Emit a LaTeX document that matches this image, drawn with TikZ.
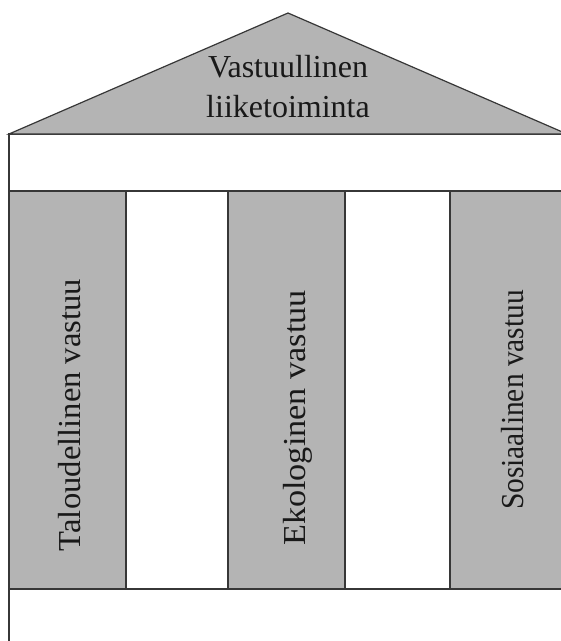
\documentclass[tikz,border=0pt]{standalone}
\usepackage{graphicx}
\usepackage{fontspec}
\setmainfont{Liberation Serif}
\definecolor{pillarfill}{RGB}{180,180,180}
\definecolor{edgecol}{RGB}{55,55,55}
\definecolor{inkcol}{RGB}{25,25,25}
\tikzset{
  solidpart/.style={draw=edgecol, line width=1.2pt, fill=pillarfill},
  openpart/.style={draw=edgecol, line width=1.2pt, fill=white},
  block/.style={rectangle, inner sep=0pt, outer sep=0pt, anchor=north west},
  column/.style={block, solidpart, minimum width=117pt, minimum height=398pt},
  lbl/.style={font=\fontsize{32}{40}\selectfont, text=inkcol, inner sep=0pt},
}
\begin{document}
\begin{tikzpicture}[x=1pt,y=-1pt]
\useasboundingbox (0,0) rectangle (561,641);
\fill[white] (0,0) rectangle (561,641);
\clip (0,0) rectangle (561,641);
% foundation and beam
\node[block, openpart, minimum width=558pt, minimum height=80pt] (base) at (9,589) {};
\node[block, openpart, minimum width=558pt, minimum height=57pt] (beam) at (9,134) {};
% pillars
\node[column] (p1) at (9,191) {};
\node[column] (p2) at (228,191) {};
\node[column] (p3) at (450,191) {};
% roof
\coordinate (roofL) at (9,134);
\coordinate (apex) at (288,13);
\coordinate (roofR) at (567,134);
\draw[solidpart, line join=miter] (roofL) -- (apex) -- (roofR) -- cycle;
\node[lbl, align=center, anchor=north] (roof) at (288,55) {Vastuullinen\\liiketoiminta};
% pillar labels
\node[lbl, rotate=90, anchor=base] (t1) at (80,415) {\scalebox{1.02}[1]{Taloudellinen vastuu}};
\node[lbl, rotate=90, anchor=base] (t2) at (305,418) {\scalebox{1.07}[1]{Ekologinen vastuu}};
\node[lbl, rotate=90, anchor=base] (t3) at (523,400) {\scalebox{0.92}[1]{Sosiaalinen vastuu}};
\end{tikzpicture}
\end{document}
